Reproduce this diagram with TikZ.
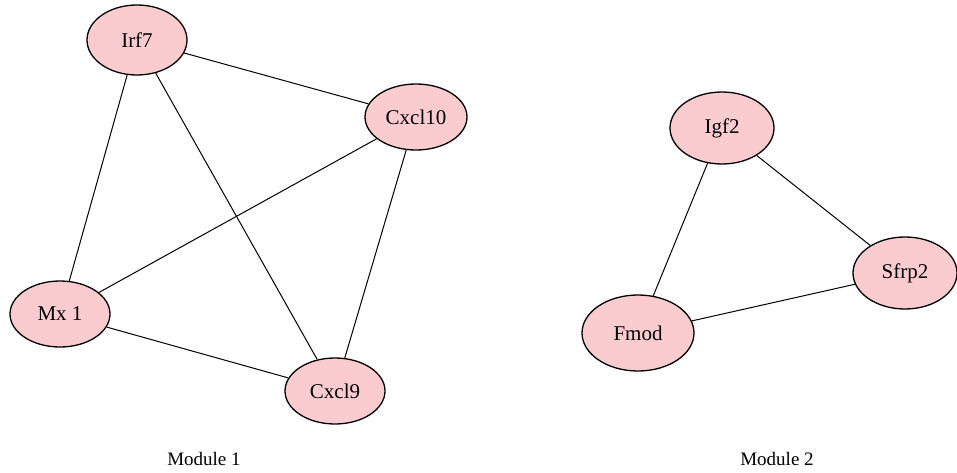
\documentclass[tikz,border=0pt]{standalone}
\usepackage{fontspec}
\setmainfont{Liberation Serif}
\usetikzlibrary{shapes.geometric}
\definecolor{pinkfill}{RGB}{250,204,207}
\tikzset{
  gene/.style={ellipse, draw=black, line width=1.3pt, fill=pinkfill, inner sep=0pt,
    font=\fontsize{21}{23}\selectfont, minimum width=100pt, minimum height=66pt},
  link/.style={draw=black, line width=1pt},
  modlabel/.style={font=\fontsize{19}{21}\selectfont}
}
\begin{document}
\begin{tikzpicture}[x=1pt,y=-1pt]
\useasboundingbox (0,0) rectangle (957,473);
\node[gene, minimum height=70pt] (irf7) at (137,40) {Irf7};
\node[gene, minimum width=102pt] (cxcl10) at (416,117) {Cxcl10};
\node[gene] (mx1) at (60,314) {Mx 1};
\node[gene] (cxcl9) at (335,391) {Cxcl9};
\node[gene, minimum width=104pt, minimum height=72pt] (igf2) at (722,128) {Igf2};
\node[gene, minimum width=104pt, minimum height=72pt] (sfrp2) at (905,273) {Sfrp2};
\node[gene, minimum width=112pt, minimum height=76pt] (fmod) at (638,333) {Fmod};
\draw[link] (irf7) -- (cxcl10);
\draw[link] (irf7) -- (mx1);
\draw[link] (irf7) -- (cxcl9);
\draw[link] (cxcl10) -- (mx1);
\draw[link] (cxcl10) -- (cxcl9);
\draw[link] (mx1) -- (cxcl9);
\draw[link] (igf2) -- (sfrp2);
\draw[link] (igf2) -- (fmod);
\draw[link] (fmod) -- (sfrp2);
\node[modlabel] (m1) at (204,459) {Module 1};
\node[modlabel] (m2) at (777,459) {Module 2};
\end{tikzpicture}
\end{document}
